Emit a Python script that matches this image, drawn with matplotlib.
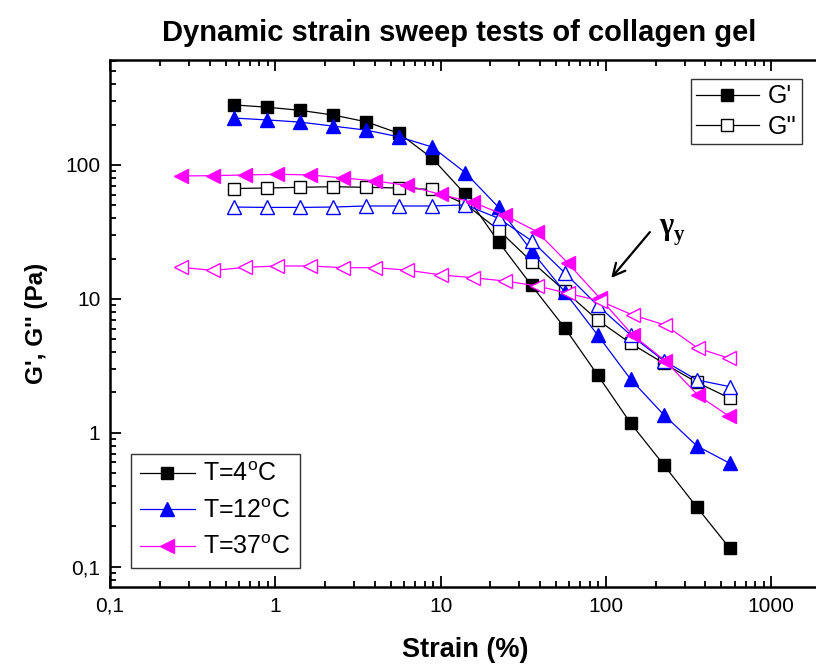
import numpy as np
import matplotlib
matplotlib.use('Agg')
import matplotlib.pyplot as plt
from matplotlib.ticker import LogLocator, FixedLocator, FixedFormatter, NullFormatter
from matplotlib.lines import Line2D

plt.rcParams['font.family'] = ['Liberation Sans', 'DejaVu Sans']
plt.rcParams['mathtext.fontset'] = 'custom'
plt.rcParams['mathtext.rm'] = 'Liberation Sans'

# strain grid (%)
strain = [0.56, 0.89, 1.41, 2.24, 3.55, 5.62, 8.91, 14.1, 22.4, 35.5, 56.2, 89.1, 141, 224, 355, 562]
strain_37 = [0.27, 0.42, 0.66, 1.03, 1.63, 2.58, 4.02, 6.28, 10.0, 15.6, 24.4, 38.2, 58.9, 92, 145, 228, 360, 556]

# T = 4 C
g1_4 = [281, 270, 256, 236, 210, 172, 112, 60.4, 26.7, 12.6, 6.10, 2.70, 1.18, 0.575, 0.278, 0.137]
g2_4 = [66.7, 67.3, 68.1, 68.8, 68.1, 67.3, 65.6, 51.0, 32.7, 19.0, 11.5, 6.95, 4.66, 3.30, 2.38, 1.81]
# T = 12 C
g1_12 = [224, 217, 209, 195, 182, 162, 136, 87.6, 48.3, 22.8, 11.3, 5.37, 2.51, 1.36, 0.797, 0.591]
g2_12 = [48.5, 48.2, 48.2, 48.5, 49.4, 49.4, 49.4, 50.3, 40.0, 27.2, 15.7, 8.93, 5.37, 3.45, 2.48, 2.21]
# T = 37 C
g1_37 = [82.8, 83.2, 84.2, 85.2, 84.2, 80.0, 76.0, 70.3, 60.2, 52.7, 42.3, 31.8, 18.5, 10.1, 5.37, 3.45, 1.91, 1.33]
g2_37 = [17.2, 16.3, 17.2, 17.6, 17.6, 17.1, 17.1, 16.4, 15.1, 14.4, 13.6, 12.5, 11.0, 9.65, 7.58, 6.38, 4.28, 3.60]

temps = ['T=4$^{\\rm o}$C', 'T=12$^{\\rm o}$C', 'T=37$^{\\rm o}$C']
colors = ['black', 'blue', 'magenta']
markers = ['s', '^', '<']
msizes = [8, 9.5, 10]

fig = plt.figure(figsize=(8.16, 6.67), dpi=100)
ax = fig.add_axes([110/816, 80/667, 711/816, 527/667])

series = [(strain, g1_4, g2_4), (strain, g1_12, g2_12), (strain_37, g1_37, g2_37)]
for (x, g1, g2), c, m, ms in zip(series, colors, markers, msizes):
    ax.plot(x, g1, color=c, marker=m, ms=ms, lw=0.9, mfc=c, mec=c)
    ax.plot(x, g2, color=c, marker=m, ms=ms, lw=0.9, mfc='white', mec=c, mew=1.0)

ax.set_xscale('log')
ax.set_yscale('log')
ax.set_xlim(0.1, 2000)
ax.set_ylim(0.0705, 608)

ax.xaxis.set_major_locator(FixedLocator([0.1, 1, 10, 100, 1000]))
ax.xaxis.set_major_formatter(FixedFormatter(['0,1', '1', '10', '100', '1000']))
ax.yaxis.set_major_locator(FixedLocator([0.1, 1, 10, 100]))
ax.yaxis.set_major_formatter(FixedFormatter(['0,1', '1', '10', '100']))
for a in (ax.xaxis, ax.yaxis):
    a.set_minor_locator(LogLocator(base=10, subs=np.arange(2, 10), numticks=20))
    a.set_minor_formatter(NullFormatter())

ax.tick_params(which='both', direction='in', top=True, right=False, width=1.3, labelsize=15, pad=7)
ax.tick_params(which='major', length=8)
ax.tick_params(which='minor', length=4)
for s in ax.spines.values():
    s.set_linewidth(1.8)

ax.set_xlabel('Strain (%)', fontsize=19.5, fontweight='bold', labelpad=15)
ax.set_ylabel("G', G'' (Pa)", fontsize=17.5, fontweight='bold', labelpad=12)
fig.text(459/816, 1 - 33/667, 'Dynamic strain sweep tests of collagen gel', fontsize=21,
         fontweight='bold', ha='center', va='center')

# legend for temperatures
h_t = [Line2D([], [], color=c, marker=m, ms=ms, lw=0.9) for c, m, ms in zip(colors, markers, msizes)]
leg1 = ax.legend(h_t, temps, loc='lower left', bbox_to_anchor=(0.0295, 0.036), borderaxespad=0,
                 fontsize=18, frameon=True, fancybox=False, edgecolor='black', handlelength=2.2,
                 handletextpad=0.35, labelspacing=0.5, borderpad=0.35)
leg1.get_frame().set_linewidth(1.0)
ax.add_artist(leg1)

# legend for moduli
h_g = [Line2D([], [], color='black', marker='s', ms=8, lw=0.9),
       Line2D([], [], color='black', marker='s', ms=8, lw=0.9, mfc='white')]
leg2 = ax.legend(h_g, ["G'", "G''"], loc='upper right', bbox_to_anchor=(0.973, 0.964), borderaxespad=0,
                 fontsize=18, frameon=True, fancybox=False, edgecolor='black', handlelength=2.5,
                 handletextpad=0.35, labelspacing=0.25, borderpad=0.22)
leg2.get_frame().set_linewidth(1.0)

# yield strain arrow
ax.annotate('', xy=(105, 13.8), xytext=(189, 32.7),
            arrowprops=dict(arrowstyle='->', color='black', lw=1.6, mutation_scale=22))
ax.text(231, 35, 'γ', fontsize=22, fontweight='bold', family='Liberation Serif', ha='center', va='center')
ax.text(277, 30, 'y', fontsize=15, fontweight='bold', family='Liberation Serif', ha='center', va='center')

fig.savefig('out.png', dpi=100)
